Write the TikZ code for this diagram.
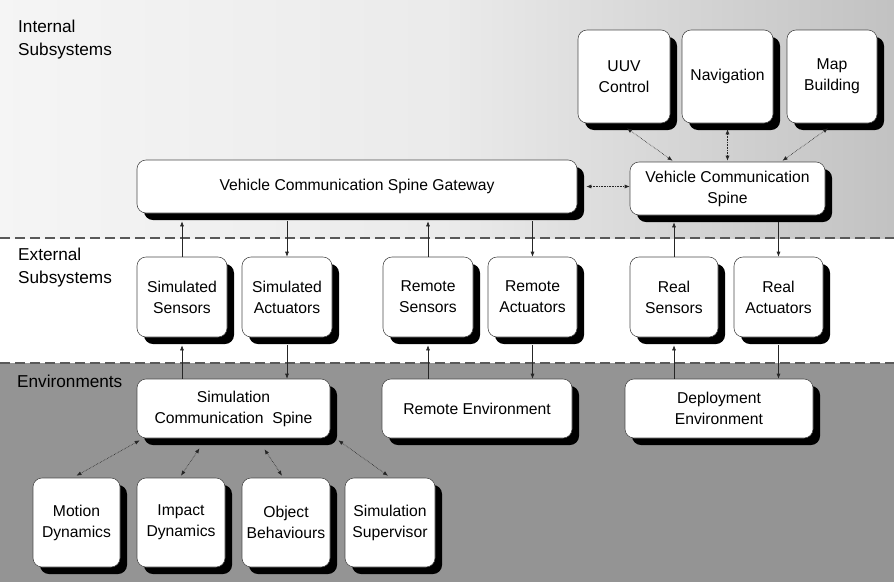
\documentclass[tikz,border=0pt]{standalone}
\usepackage{fontspec}
\setmainfont{Liberation Sans}
\usetikzlibrary{shadows,arrows.meta}
\begin{document}
\begin{tikzpicture}[x=1pt,y=-1pt,
  box/.style={draw=black!70, line width=0.6pt, fill=white, rounded corners=9pt,
    align=center, inner sep=0pt, font=\fontsize{15.7}{21}\selectfont,
    general shadow={fill=black, shadow xshift=7pt, shadow yshift=-7pt}},
  zone/.style={anchor=base west, align=left, inner sep=0pt, font=\fontsize{17.2}{23}\selectfont},
  link/.style={draw=black!85, line width=0.6pt, -{Latex[length=5pt,width=4pt]}},
  dlink/.style={draw=black!85, line width=0.6pt, densely dotted, {Latex[length=5pt,width=4pt]}-{Latex[length=5pt,width=4pt]}},
  divider/.style={draw=black!65, line width=1.3pt, dash pattern=on 10pt off 5pt}]
\useasboundingbox (0,0) rectangle (894,582);

% band backgrounds
\shade[left color=black!4, right color=black!24, middle color=black!8] (0,0) rectangle (894,238);
\fill[black!42] (0,363) rectangle (894,582);
\draw[divider] (0,238) -- (894,238);
\draw[divider] (0,363) -- (894,363);

% band titles
\node[zone] (tint) at (18,32) {Internal};
\node[zone] (tint2) at (18,55) {Subsystems};
\node[zone] (text) at (18,260) {External};
\node[zone] (text2) at (18,283) {Subsystems};
\node[zone] (tenv) at (17,387) {Environments};

% internal subsystems
\node[box, minimum width=92pt, minimum height=93pt] (uuv) at (624,76.5) {UUV\\Control};
\node[box, minimum width=91pt, minimum height=93pt] (nav) at (727.5,76.5) {Navigation};
\node[box, minimum width=90pt, minimum height=93pt] (map) at (832,76.5) {Map\\Building};
\node[box, minimum width=195pt, minimum height=53pt] (vcs) at (727.5,188.5) {Vehicle Communication\\Spine};
\node[box, minimum width=440pt, minimum height=53pt] (gw) at (357,186.5) {Vehicle Communication Spine Gateway};

% external subsystems
\node[box, minimum width=90pt, minimum height=80pt] (ssens) at (182,297) {Simulated\\Sensors};
\node[box, minimum width=90pt, minimum height=80pt] (sact) at (287,297) {Simulated\\Actuators};
\node[box, minimum width=90pt, minimum height=80pt] (rsens) at (428,297) {Remote\\Sensors};
\node[box, minimum width=89pt, minimum height=80pt] (ract) at (532.5,297) {Remote\\Actuators};
\node[box, minimum width=88pt, minimum height=80pt] (realsens) at (674,297) {Real\\Sensors};
\node[box, minimum width=89pt, minimum height=80pt] (realact) at (778.5,297) {Real\\Actuators};

% environments
\node[box, minimum width=193pt, minimum height=59pt] (scs) at (233.5,408.5) {Simulation\\Communication\ \ Spine};
\node[box, minimum width=190pt, minimum height=59pt] (renv) at (477,408.5) {Remote Environment};
\node[box, minimum width=188pt, minimum height=59pt] (denv) at (719,408.5) {Deployment\\Environment};

\node[box, minimum width=87pt, minimum height=89pt] (md) at (76.5,522.5) {Motion\\Dynamics};
\node[box, minimum width=88pt, minimum height=89pt] (idy) at (181,522.5) {Impact\\Dynamics};
\node[box, minimum width=88pt, minimum height=89pt] (ob) at (286,522.5) {Object\\Behaviours};
\node[box, minimum width=90pt, minimum height=89pt] (sup) at (390,522.5) {Simulation\\Supervisor};

% internal links
\draw[dlink] ([xshift=3pt,yshift=-5pt]uuv.south) -- ([xshift=-55pt,yshift=1pt]vcs.north);
\draw[dlink] ([yshift=-6pt]nav.south) -- ([yshift=1pt]vcs.north);
\draw[dlink] ([xshift=-4pt,yshift=-5pt]map.south) -- ([xshift=55pt,yshift=1pt]vcs.north);
\draw[dlink] ([xshift=9pt]gw.east) -- (vcs.west |- gw.east);

% gateway / spine to external subsystems
\draw[link] (ssens.north) -- ([yshift=-8pt]ssens.north |- gw.south);
\draw[link] ([yshift=-8pt]sact.north |- gw.south) -- (sact.north);
\draw[link] (rsens.north) -- ([yshift=-8pt]rsens.north |- gw.south);
\draw[link] ([yshift=-8pt]ract.north |- gw.south) -- (ract.north);
\draw[link] (realsens.north) -- ([yshift=-7pt]realsens.north |- vcs.south);
\draw[link] ([yshift=-7pt]realact.north |- vcs.south) -- (realact.north);

% external subsystems to environments
\draw[link] (ssens.north |- scs.north) -- ([yshift=-8pt]ssens.south);
\draw[link] ([yshift=-8pt]sact.south) -- (sact.south |- scs.north);
\draw[link] (rsens.north |- renv.north) -- ([yshift=-8pt]rsens.south);
\draw[link] ([yshift=-8pt]ract.south) -- (ract.south |- renv.north);
\draw[link] (realsens.north |- denv.north) -- ([yshift=-8pt]realsens.south);
\draw[link] ([yshift=-8pt]realact.south) -- (realact.south |- denv.north);

% simulation spine to simulation components
\draw[dlink] ([xshift=3pt,yshift=-2pt]scs.south west) -- ([yshift=2pt]md.north);
\draw[dlink] ([xshift=-34pt,yshift=-10pt]scs.south) -- ([yshift=2pt]idy.north);
\draw[dlink] ([xshift=31pt,yshift=-11pt]scs.south) -- ([xshift=-4pt,yshift=2pt]ob.north);
\draw[dlink] ([xshift=8pt,yshift=-2pt]scs.south east) -- ([xshift=-2pt,yshift=2pt]sup.north);
\end{tikzpicture}
\end{document}
